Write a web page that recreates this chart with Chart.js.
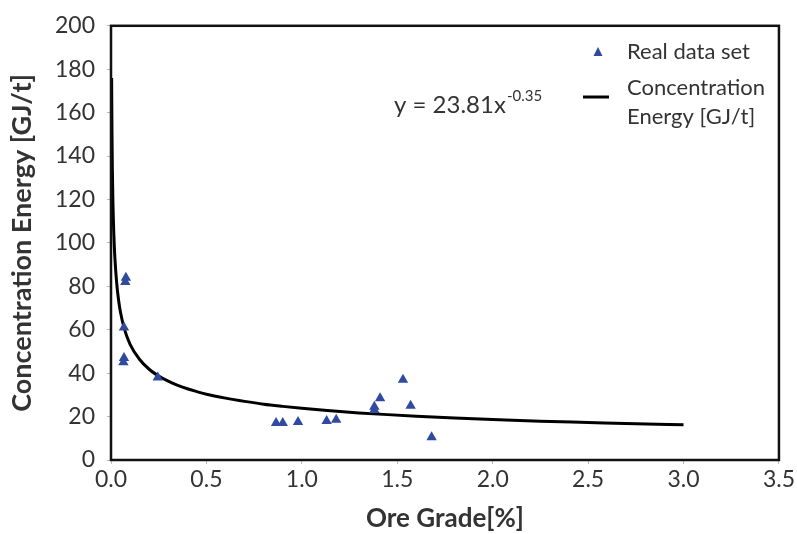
<!DOCTYPE html>
<html lang="en">
<head>
  <meta charset="UTF-8">
  <title>Concentration Energy vs Ore Grade</title>
  <script src="https://cdn.jsdelivr.net/npm/chart.js"></script>
  <style>
    body {
      margin: 0;
      background: #fff;
    }
    .wrap {
      width: 797px;
      height: 534px;
    }
  </style>
</head>
<body>
  <div class="wrap">
    <canvas id="chart"></canvas>
  </div>

  <script>
    // Real data set (ore grade %, energy GJ/t)
    const gradeData = [0.078, 0.075, 0.068, 0.068, 0.065, 0.245, 0.865, 0.90, 0.98, 1.13, 1.18, 1.38, 1.38, 1.41, 1.53, 1.57, 1.68];
    const energyData = [84, 82, 61, 47, 45, 38, 17, 17, 17.5, 18, 18.5, 23, 24.5, 28.5, 37, 25, 10.5];

    // fitted curve y = 23.81x^-0.35
    const curveGrade = [0.0033, 0.005, 0.007, 0.01, 0.015, 0.02, 0.03, 0.04, 0.05, 0.07, 0.1, 0.15, 0.2, 0.25, 0.3, 0.35, 0.4, 0.45, 0.5, 0.6, 0.7, 0.8, 0.9, 1.0, 1.15, 1.3, 1.45, 1.6, 1.8, 2.0, 2.25, 2.5, 2.75, 3.0];
    const curveEnergy = [176, 152, 135, 119, 103.6, 93.6, 81.3, 73.5, 67.9, 60.4, 53.3, 46.3, 41.8, 38.7, 36.3, 34.4, 32.8, 31.5, 30.3, 28.5, 27.0, 25.7, 24.7, 23.8, 22.7, 21.7, 20.9, 20.2, 19.4, 18.7, 17.9, 17.3, 16.7, 16.2];

    const xTicks = [0, 0.5, 1, 1.5, 2, 2.5, 3, 3.5];
    const yTicks = [0, 20, 40, 60, 80, 100, 120, 140, 160, 180, 200];

    const font = 'Lato, "Open Sans", sans-serif';
    const textColor = '#333';

    // box, legend and equation text
    const extras = {
      id: 'extras',
      afterDraw(chart) {
        const c = chart.ctx;
        const a = chart.chartArea;
        c.save();
        c.strokeStyle = '#111';
        c.lineWidth = 2.5;
        c.strokeRect(a.left, a.top, a.right - a.left, a.bottom - a.top);

        c.font = '22px ' + font;
        c.textBaseline = 'middle';
        c.textAlign = 'left';

        // legend
        c.fillStyle = '#2f4a9e';
        c.beginPath();
        c.moveTo(598, 47);
        c.lineTo(602.5, 56);
        c.lineTo(593.5, 56);
        c.closePath();
        c.fill();
        c.fillStyle = textColor;
        c.fillText('Real data set', 627, 52);

        c.strokeStyle = '#000';
        c.lineWidth = 3;
        c.beginPath();
        c.moveTo(583, 97);
        c.lineTo(609, 97);
        c.stroke();
        c.fillText('Concentration', 627, 88);
        c.fillText('Energy [GJ/t]', 627, 117);

        // equation
        c.font = '24px ' + font;
        c.fillText('y = 23.81x', 394, 105);
        const w = c.measureText('y = 23.81x').width;
        c.font = '15px ' + font;
        c.fillText('-0.35', 394 + w + 1, 96);
        c.restore();
      }
    };

    new Chart(document.getElementById('chart'), {
      type: 'scatter',
      data: {
        datasets: [
          {
            label: 'Real data set',
            data: gradeData.map((g, i) => ({ x: g, y: energyData[i] })),
            pointStyle: 'triangle',
            radius: 6,
            backgroundColor: '#2f4a9e',
            borderColor: '#2f4a9e',
            borderWidth: 0
          },
          {
            label: 'Concentration Energy [GJ/t]',
            type: 'line',
            data: curveGrade.map((g, i) => ({ x: g, y: curveEnergy[i] })),
            borderColor: '#000',
            borderWidth: 3,
            pointRadius: 0,
            cubicInterpolationMode: 'monotone',
            fill: false
          }
        ]
      },
      options: {
        responsive: true,
        maintainAspectRatio: false,
        animation: false,
        layout: { padding: { top: 22, right: 14, left: 0, bottom: 0 } },
        plugins: {
          legend: { display: false },
          tooltip: { enabled: false }
        },
        scales: {
          x: {
            type: 'linear',
            min: 0,
            max: 3.5,
            afterBuildTicks: s => { s.ticks = xTicks.map(v => ({ value: v })); },
            afterFit: s => { s.height = 74; },
            grid: { display: true, drawOnChartArea: false, tickLength: 4, color: '#bbb' },
            border: { display: false },
            ticks: {
              color: textColor,
              font: { size: 23, family: font },
              padding: 2,
              maxRotation: 0,
              callback: v => v.toFixed(1)
            },
            title: {
              display: true,
              text: 'Ore Grade[%]',
              color: textColor,
              font: { size: 26, weight: 'bold', family: font },
              padding: { top: 0, bottom: 0 }
            }
          },
          y: {
            min: 0,
            max: 200,
            afterBuildTicks: s => { s.ticks = yTicks.map(v => ({ value: v })); },
            afterFit: s => { s.width = 111; },
            grid: { display: true, drawOnChartArea: false, tickLength: 4, color: '#bbb' },
            border: { display: false },
            ticks: {
              color: textColor,
              font: { size: 23, family: font },
              padding: 12
            },
            title: {
              display: true,
              text: 'Concentration Energy [GJ/t]',
              color: textColor,
              font: { size: 27, weight: 'bold', family: font },
              padding: { bottom: 0, top: 6 }
            }
          }
        }
      },
      plugins: [extras]
    });
  </script>
</body>
</html>
